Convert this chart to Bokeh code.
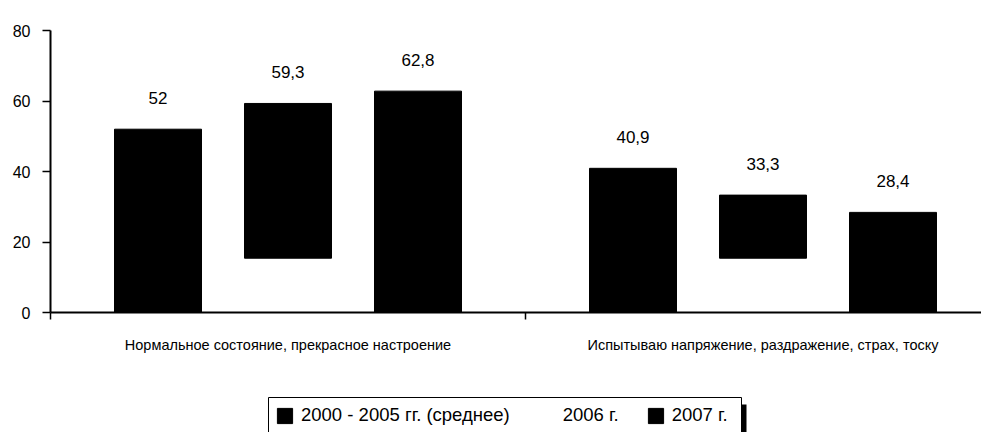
from bokeh.plotting import figure
from bokeh.layouts import column
from bokeh.models import (Range1d, FixedTicker, Legend, LegendItem, ColumnDataSource)
from bokeh.core.properties import value
from bokeh.embed import file_html
from bokeh.resources import INLINE

categories = ["Нормальное состояние, прекрасное настроение",
              "Испытываю напряжение, раздражение, страх, тоску"]
series_names = ["2000 - 2005 гг. (среднее)", "2006 г.", "2007 г."]
avg_2000_2005 = [52.0, 40.9]
y2006 = [59.3, 33.3]
y2006_base = [15.4, 15.4]
y2007 = [62.8, 28.4]
value_labels_2000_2005 = ["52", "40,9"]
value_labels_2006 = ["59,3", "33,3"]
value_labels_2007 = ["62,8", "28,4"]
y_ticks = [0, 20, 40, 60, 80]

FONT = "Liberation Sans"
W = 981

p = figure(width=W, height=380, output_backend="svg", toolbar_location=None,
           x_range=Range1d(0, (W - 50) / 475), y_range=Range1d(0, 80),
           min_border_left=50, min_border_right=0, min_border_top=30,
           min_border_bottom=68)
p.outline_line_color = None
p.xgrid.visible = False
p.ygrid.visible = False
p.background_fill_color = "white"

centers = [i + 0.5 for i in range(len(categories))]
off = 130 / 475
bw = 87 / 475

src1 = ColumnDataSource(dict(x=[c - off for c in centers], top=avg_2000_2005,
                             bottom=[0] * len(centers), lab=value_labels_2000_2005))
src2 = ColumnDataSource(dict(x=centers, top=y2006, bottom=y2006_base,
                             lab=value_labels_2006))
src3 = ColumnDataSource(dict(x=[c + off for c in centers], top=y2007,
                             bottom=[0] * len(centers), lab=value_labels_2007))

for s in (src1, src2, src3):
    p.vbar(x="x", top="top", bottom="bottom", width=bw, source=s,
           fill_color="black", line_color="black")
    p.text(x="x", y="top", text="lab", source=s, text_align="center",
           text_baseline="middle", y_offset=-31, text_font=value(FONT),
           text_font_size="17px", text_color="black")

# y axis
ya = p.yaxis[0]
ya.ticker = FixedTicker(ticks=y_ticks)
ya.axis_line_width = 2
ya.axis_line_color = "black"
ya.major_tick_line_color = "black"
ya.major_tick_line_width = 1.5
ya.major_tick_out = 8
ya.major_tick_in = 0
ya.minor_tick_line_color = None
ya.major_label_text_font = FONT
ya.major_label_text_font_size = "16px"
ya.major_label_text_color = "black"
ya.major_label_standoff = 12

# x axis
xa = p.xaxis[0]
xa.ticker = FixedTicker(ticks=centers, minor_ticks=[0, 1, 2])
xa.major_label_overrides = {centers[i]: categories[i] for i in range(len(categories))}
xa.axis_line_width = 2
xa.axis_line_color = "black"
xa.major_tick_line_color = None
xa.minor_tick_line_color = "black"
xa.minor_tick_line_width = 1.5
xa.minor_tick_out = 7
xa.minor_tick_in = 0
xa.major_label_text_font = FONT
xa.major_label_text_font_size = "14.5px"
xa.major_label_text_color = "black"
xa.major_label_standoff = 17

# legend strip (its frame is aligned with the main frame: page x 50..981)
lf = figure(width=W, height=52, output_backend="svg", toolbar_location=None,
            x_range=Range1d(50, W), y_range=Range1d(0, 52),
            min_border=0, x_axis_type=None, y_axis_type=None)
lf.outline_line_color = None
lf.xgrid.visible = False
lf.ygrid.visible = False
# legend frame with a drop shadow on its right
lf.quad(left=[741], right=[746], bottom=[-10], top=[28], fill_color="black",
        line_color=None)
lf.quad(left=[268], right=[741], bottom=[-10], top=[35], fill_color="white",
        line_color="black", line_width=1)
# proxy renderers for the legend swatches (outside the visible range)
l1 = lf.vbar(x=[-500], top=[-500], width=1, fill_color="black", line_color="black")
l2 = lf.vbar(x=[-500], top=[-500], width=1, fill_color="white", line_color="white")
l3 = lf.vbar(x=[-500], top=[-500], width=1, fill_color="black", line_color="black")
legend = Legend(items=[LegendItem(label=series_names[0], renderers=[l1]),
                       LegendItem(label=series_names[1], renderers=[l2]),
                       LegendItem(label=series_names[2], renderers=[l3])],
                orientation="horizontal", location=(225, 6),
                border_line_color=None, background_fill_alpha=0,
                label_text_font=FONT, label_text_font_size="18.5px",
                label_text_color="black", glyph_width=19, glyph_height=19,
                label_standoff=7, spacing=27, padding=5, margin=0)
lf.add_layout(legend)

layout = column(p, lf, spacing=0)
open("out.html", "w").write(file_html(layout, INLINE))
